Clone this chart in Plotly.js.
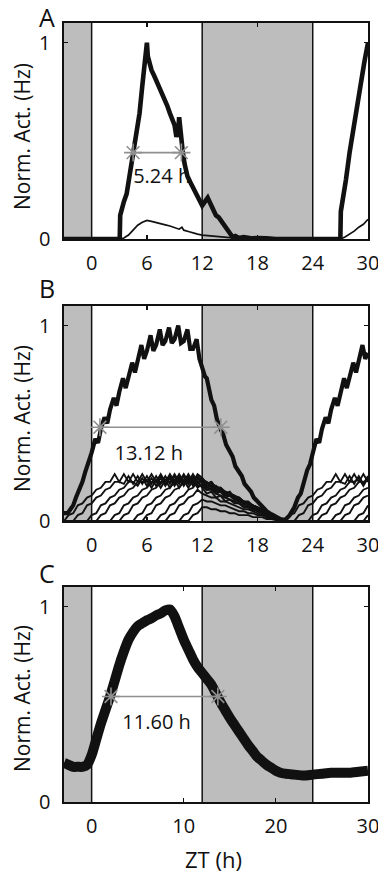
<!DOCTYPE html>
<html>
<head>
<meta charset="utf-8">
<script src="https://cdn.plot.ly/plotly-3.0.1.min.js"></script>
<style>html,body{margin:0;padding:0;background:#fff;}#chart{width:378px;height:874px;}</style>
</head>
<body>
<div id="chart"></div>
<script>
// ---------- Panel A ----------
const aTime = [-3, 3.05, 3.1, 3.3, 3.5, 3.8, 4.0, 4.3, 4.6, 4.9, 5.2, 5.5, 5.7, 5.9, 6.0, 6.1, 6.3, 6.5, 6.8, 7.0, 7.3, 7.6, 7.9, 8.2, 8.5, 8.8, 9.0, 9.2, 9.4, 9.5, 9.6, 9.7, 9.9, 10.1, 10.4, 10.7, 11.0, 11.3, 11.6, 12.0, 12.3, 12.6, 12.9, 13.2, 13.5, 13.8, 14.1, 14.4, 14.7, 15.0, 15.3, 15.6, 16.0, 16.5, 17.0, 17.5, 18, 18.5, 19, 20, 22, 24, 26, 27.0, 27.05, 27.3, 27.6, 28.0, 28.4, 28.8, 29.2, 29.6, 30];
const aTotal = [0, 0, 0.12, 0.17, 0.19, 0.23, 0.29, 0.36, 0.44, 0.55, 0.64, 0.78, 0.86, 0.95, 1.0, 0.93, 0.88, 0.86, 0.83, 0.81, 0.78, 0.75, 0.71, 0.68, 0.64, 0.61, 0.58, 0.52, 0.55, 0.62, 0.56, 0.50, 0.44, 0.38, 0.32, 0.29, 0.26, 0.23, 0.20, 0.17, 0.19, 0.21, 0.18, 0.15, 0.12, 0.11, 0.09, 0.07, 0.04, 0.02, 0.01, 0.015, 0.005, 0.01, 0.004, 0.003, 0.005, 0.002, 0.003, 0, 0, 0, 0, 0, 0.14, 0.20, 0.30, 0.44, 0.56, 0.68, 0.80, 0.90, 1.0];
const aThinTime = [-3, 3.1, 3.5, 4, 4.5, 5, 5.5, 6, 6.5, 7, 7.5, 8, 8.5, 9, 9.5, 9.8, 10, 10.5, 11, 11.5, 12, 13, 14, 15, 16, 18, 20, 24, 27, 27.5, 28, 28.5, 29, 29.5, 30];
const aThin = [0, 0, 0.005, 0.02, 0.045, 0.07, 0.085, 0.095, 0.09, 0.085, 0.08, 0.072, 0.066, 0.058, 0.05, 0.06, 0.045, 0.038, 0.03, 0.025, 0.02, 0.015, 0.01, 0.007, 0.004, 0.002, 0, 0, 0, 0.01, 0.025, 0.04, 0.06, 0.075, 0.1];
const aHalfX = [4.5, 9.74];
const aHalfY = [0.44, 0.44];
const aLabel = "5.24 h";

// ---------- Panel B ----------
const bTime = [-3, -2.6, -2.3, -2, -1.7, -1.4, -1, -0.7, -0.4, 0, 0.4, 0.7, 1.0, 1.4, 1.7, 2.0, 2.4, 2.7, 3.0, 3.4, 3.7, 4.0, 4.4, 4.7, 5.0, 5.4, 5.7, 6.0, 6.4, 6.7, 7.0, 7.4, 7.7, 8.0, 8.4, 8.7, 9.0, 9.4, 9.7, 10.0, 10.4, 10.7, 11.0, 11.4, 11.7, 12.0, 12.3, 12.5, 12.8, 13.0, 13.3, 13.6, 14.0, 14.3, 14.6, 15.0, 15.3, 15.6, 16.0, 16.3, 16.6, 17.0, 17.3, 17.6, 18, 18.3, 18.6, 19, 19.5, 20, 20.5, 21, 21.5, 22, 22.4, 22.7, 23, 23.4, 23.7, 24, 24.4, 24.7, 25, 25.4, 25.7, 26, 26.4, 26.7, 27, 27.4, 27.7, 28, 28.4, 28.7, 29, 29.4, 29.7, 30];
const bTotal = [0.04, 0.04, 0.06, 0.08, 0.12, 0.15, 0.20, 0.25, 0.29, 0.35, 0.42, 0.40, 0.47, 0.53, 0.50, 0.57, 0.63, 0.59, 0.66, 0.73, 0.68, 0.74, 0.81, 0.76, 0.82, 0.90, 0.83, 0.87, 0.95, 0.87, 0.90, 0.98, 0.90, 0.92, 0.99, 0.91, 0.93, 1.0, 0.91, 0.92, 0.98, 0.88, 0.88, 0.93, 0.83, 0.78, 0.74, 0.73, 0.65, 0.62, 0.59, 0.52, 0.47, 0.44, 0.39, 0.35, 0.33, 0.28, 0.25, 0.23, 0.19, 0.17, 0.15, 0.12, 0.10, 0.09, 0.07, 0.05, 0.035, 0.02, 0.01, 0.005, 0.03, 0.07, 0.12, 0.14, 0.20, 0.26, 0.29, 0.35, 0.42, 0.40, 0.47, 0.53, 0.50, 0.57, 0.63, 0.59, 0.66, 0.73, 0.68, 0.74, 0.81, 0.76, 0.82, 0.90, 0.83, 0.86];
// shared half-hour time grid for the single-cell traces
const bCellTime = [-3, -2.5, -2, -1.5, -1, -0.5, 0, 0.5, 1, 1.5, 2, 2.5, 3, 3.5, 4, 4.5, 5, 5.5, 6, 6.5, 7, 7.5, 8, 8.5, 9, 9.5, 10, 10.5, 11, 11.5, 12, 12.5, 13, 13.5, 14, 14.5, 15, 15.5, 16, 16.5, 17, 17.5, 18, 18.5, 19, 19.5, 20, 20.5, 21, 21.5, 22, 22.5, 23, 23.5, 24, 24.5, 25, 25.5, 26, 26.5, 27, 27.5, 28, 28.5, 29, 29.5, 30];
const bCell1 = [0, 0.03, 0.04, 0.08, 0.09, 0.12, 0.13, 0.16, 0.17, 0.20, 0.20, 0.24, 0.20, 0.24, 0.20, 0.24, 0.20, 0.24, 0.20, 0.24, 0.20, 0.24, 0.20, 0.24, 0.20, 0.24, 0.20, 0.24, 0.20, 0.24, 0.22, 0.19, 0.20, 0.17, 0.17, 0.14, 0.15, 0.12, 0.12, 0.10, 0.10, 0.08, 0.07, 0.06, 0.05, 0.03, 0.02, 0.01, 0, 0.03, 0.04, 0.08, 0.09, 0.12, 0.13, 0.16, 0.17, 0.20, 0.20, 0.24, 0.20, 0.24, 0.20, 0.24, 0.20, 0.24, 0.20];
const bCell2 = [0, 0, 0, 0.03, 0.04, 0.08, 0.09, 0.12, 0.13, 0.16, 0.17, 0.20, 0.20, 0.19, 0.23, 0.19, 0.23, 0.19, 0.23, 0.19, 0.23, 0.19, 0.23, 0.19, 0.23, 0.19, 0.23, 0.19, 0.23, 0.19, 0.21, 0.20, 0.18, 0.18, 0.16, 0.15, 0.14, 0.13, 0.11, 0.10, 0.09, 0.08, 0.06, 0.05, 0.04, 0.03, 0.02, 0.01, 0, 0, 0, 0.03, 0.04, 0.08, 0.09, 0.12, 0.13, 0.16, 0.17, 0.20, 0.20, 0.19, 0.23, 0.19, 0.23, 0.19, 0.23];
const bCell3 = [0, 0, 0, 0, 0, 0, 0.03, 0.04, 0.08, 0.09, 0.12, 0.13, 0.16, 0.17, 0.20, 0.20, 0.18, 0.22, 0.18, 0.22, 0.18, 0.22, 0.18, 0.22, 0.18, 0.22, 0.18, 0.22, 0.18, 0.22, 0.20, 0.17, 0.18, 0.15, 0.15, 0.13, 0.13, 0.11, 0.10, 0.09, 0.08, 0.07, 0.06, 0.05, 0.04, 0.03, 0.02, 0.01, 0, 0, 0, 0, 0, 0, 0.03, 0.04, 0.08, 0.09, 0.12, 0.13, 0.16, 0.17, 0.20, 0.20, 0.22, 0.18, 0.22];
const bCell4 = [0, 0, 0, 0, 0, 0, 0, 0, 0.03, 0.04, 0.08, 0.09, 0.12, 0.13, 0.16, 0.17, 0.20, 0.20, 0.21, 0.17, 0.21, 0.17, 0.21, 0.17, 0.21, 0.17, 0.21, 0.17, 0.21, 0.17, 0.19, 0.16, 0.17, 0.14, 0.15, 0.12, 0.13, 0.11, 0.11, 0.09, 0.09, 0.07, 0.06, 0.05, 0.04, 0.03, 0.02, 0.01, 0, 0, 0, 0, 0, 0, 0, 0, 0.03, 0.04, 0.08, 0.09, 0.12, 0.13, 0.16, 0.17, 0.20, 0.20, 0.21];
const bCell5 = [0, 0, 0, 0, 0, 0, 0, 0, 0, 0, 0, 0.03, 0.04, 0.08, 0.09, 0.12, 0.13, 0.16, 0.17, 0.20, 0.20, 0.23, 0.19, 0.23, 0.19, 0.23, 0.19, 0.23, 0.19, 0.23, 0.21, 0.18, 0.19, 0.16, 0.16, 0.14, 0.14, 0.12, 0.11, 0.10, 0.09, 0.08, 0.07, 0.05, 0.04, 0.03, 0.02, 0.01, 0, 0, 0, 0, 0, 0, 0, 0, 0, 0, 0, 0.03, 0.04, 0.08, 0.09, 0.12, 0.13, 0.16, 0.17];
const bCell6 = [0, 0, 0, 0, 0, 0, 0, 0, 0, 0, 0, 0, 0, 0.03, 0.04, 0.08, 0.09, 0.12, 0.13, 0.16, 0.17, 0.20, 0.20, 0.20, 0.24, 0.20, 0.24, 0.20, 0.24, 0.20, 0.22, 0.19, 0.20, 0.17, 0.17, 0.15, 0.14, 0.13, 0.12, 0.10, 0.09, 0.08, 0.07, 0.06, 0.04, 0.03, 0.02, 0.01, 0, 0, 0, 0, 0, 0, 0, 0, 0, 0, 0, 0, 0, 0.03, 0.04, 0.08, 0.09, 0.12, 0.13];
const bCell7 = [0, 0, 0, 0, 0, 0, 0, 0, 0, 0, 0, 0, 0, 0, 0, 0, 0.03, 0.04, 0.08, 0.09, 0.12, 0.13, 0.16, 0.17, 0.20, 0.20, 0.23, 0.19, 0.23, 0.19, 0.20, 0.18, 0.18, 0.16, 0.15, 0.14, 0.13, 0.11, 0.10, 0.09, 0.08, 0.07, 0.06, 0.05, 0.04, 0.03, 0.02, 0.01, 0, 0, 0, 0, 0, 0, 0, 0, 0, 0, 0, 0, 0, 0, 0, 0, 0.03, 0.04, 0.08];
const bCell8 = [0, 0, 0, 0, 0, 0, 0, 0, 0, 0, 0, 0, 0, 0, 0, 0, 0, 0, 0.03, 0.04, 0.08, 0.09, 0.12, 0.13, 0.16, 0.17, 0.20, 0.20, 0.22, 0.18, 0.18, 0.16, 0.16, 0.14, 0.13, 0.12, 0.11, 0.10, 0.09, 0.08, 0.07, 0.06, 0.05, 0.04, 0.03, 0.02, 0.01, 0.005, 0, 0, 0, 0, 0, 0, 0, 0, 0, 0, 0, 0, 0, 0, 0, 0, 0, 0, 0.03];
const bCell9 = [0, 0, 0, 0, 0, 0, 0, 0, 0, 0, 0, 0, 0, 0, 0, 0, 0, 0, 0, 0, 0, 0.03, 0.04, 0.08, 0.09, 0.12, 0.13, 0.16, 0.17, 0.20, 0.17, 0.14, 0.15, 0.12, 0.13, 0.10, 0.11, 0.09, 0.09, 0.07, 0.07, 0.06, 0.05, 0.04, 0.03, 0.02, 0.01, 0.005, 0, 0, 0, 0, 0, 0, 0, 0, 0, 0, 0, 0, 0, 0, 0, 0, 0, 0, 0];
const bCell10 = [0, 0, 0, 0, 0, 0, 0, 0, 0, 0, 0, 0, 0, 0, 0, 0, 0, 0, 0, 0, 0, 0, 0, 0.03, 0.04, 0.08, 0.09, 0.12, 0.13, 0.16, 0.14, 0.13, 0.12, 0.12, 0.10, 0.10, 0.09, 0.08, 0.07, 0.06, 0.06, 0.05, 0.04, 0.03, 0.02, 0.02, 0.01, 0.005, 0, 0, 0, 0, 0, 0, 0, 0, 0, 0, 0, 0, 0, 0, 0, 0, 0, 0, 0];
const bCell11 = [0, 0, 0, 0, 0, 0, 0, 0, 0, 0, 0, 0, 0, 0, 0, 0, 0, 0, 0, 0, 0, 0, 0, 0, 0, 0, 0.03, 0.04, 0.08, 0.09, 0.11, 0.10, 0.10, 0.09, 0.08, 0.08, 0.07, 0.06, 0.05, 0.05, 0.04, 0.04, 0.03, 0.03, 0.02, 0.01, 0.01, 0.005, 0, 0, 0, 0, 0, 0, 0, 0, 0, 0, 0, 0, 0, 0, 0, 0, 0, 0, 0];
const bCell12 = [0, 0, 0, 0, 0, 0, 0, 0, 0, 0, 0, 0, 0, 0, 0, 0, 0, 0, 0, 0, 0, 0, 0, 0, 0, 0, 0, 0, 0.03, 0.04, 0.07, 0.07, 0.06, 0.06, 0.05, 0.05, 0.04, 0.04, 0.03, 0.03, 0.03, 0.02, 0.02, 0.02, 0.01, 0.01, 0.005, 0, 0, 0, 0, 0, 0, 0, 0, 0, 0, 0, 0, 0, 0, 0, 0, 0, 0, 0, 0];
const bCells = [bCell1, bCell2, bCell3, bCell4, bCell5, bCell6, bCell7, bCell8, bCell9, bCell10, bCell11, bCell12];
const bHalfX = [0.9, 14.02];
const bHalfY = [0.48, 0.48];
const bLabel = "13.12 h";

// ---------- Panel C ----------
const cTime = [-3, -2.5, -2, -1.5, -1, -0.5, 0, 0.5, 1, 1.5, 2, 2.5, 3, 3.5, 4, 4.5, 5, 5.5, 6, 6.5, 7, 7.5, 8, 8.5, 9, 9.5, 10, 10.5, 11, 11.5, 12, 12.5, 13, 13.5, 14, 14.5, 15, 15.5, 16, 16.5, 17, 17.5, 18, 18.5, 19, 19.5, 20, 20.5, 21, 22, 23, 24, 25, 26, 27, 28, 29, 30];
const cTotal = [0.20, 0.19, 0.18, 0.18, 0.18, 0.19, 0.24, 0.32, 0.40, 0.47, 0.54, 0.62, 0.70, 0.77, 0.83, 0.87, 0.90, 0.915, 0.93, 0.94, 0.955, 0.965, 0.98, 0.985, 0.95, 0.89, 0.83, 0.78, 0.73, 0.69, 0.66, 0.63, 0.60, 0.555, 0.51, 0.47, 0.43, 0.395, 0.36, 0.325, 0.29, 0.26, 0.23, 0.21, 0.19, 0.175, 0.16, 0.15, 0.145, 0.14, 0.135, 0.14, 0.145, 0.15, 0.15, 0.15, 0.155, 0.16];
const cHalfX = [2.1, 13.7];
const cHalfY = [0.54, 0.54];
const cLabel = "11.60 h";

// ---------- shared ----------
const ticksAB = [0, 6, 12, 18, 24, 30];
const ticksC = [0, 10, 20, 30];
const yTicks = [0, 1];
const nightBlocks = [[-3, 0], [12, 24]];
const lightSwitches = [0, 12, 24];
const panelLetters = ["A", "B", "C"];
const yTitle = "Norm. Act. (Hz)";
const xTitle = "ZT (h)";

const FONT = "Open Sans, Noto Sans, DejaVu Sans, sans-serif";
const INK = "#111111";
const HALF = "#8f8f8f";

const traces = [];
function labelTrace(x, y, txt, xa, ya) {
  return {x: [x], y: [y], mode: "text", text: [txt], textposition: "middle center",
    textfont: {family: FONT, size: 20, color: INK}, xaxis: xa, yaxis: ya, hoverinfo: "skip", showlegend: false, cliponaxis: false};
}
function halfTrace(xs, ys, xa, ya) {
  return {x: xs, y: ys, mode: "lines+markers", line: {color: HALF, width: 1.6},
    marker: {symbol: "asterisk-open", size: 15, color: HALF, line: {color: HALF, width: 1.6}},
    xaxis: xa, yaxis: ya, hoverinfo: "skip", showlegend: false, cliponaxis: false};
}

// A
traces.push(labelTrace(7.6, 0.31, aLabel, "x", "y"));
traces.push({x: aThinTime, y: aThin, mode: "lines", line: {color: INK, width: 1.7}, xaxis: "x", yaxis: "y", showlegend: false});
traces.push({x: aTime, y: aTotal, mode: "lines", line: {color: INK, width: 4.6}, xaxis: "x", yaxis: "y", showlegend: false});
traces.push(halfTrace(aHalfX, aHalfY, "x", "y"));

// B
traces.push(labelTrace(6.2, 0.34, bLabel, "x2", "y2"));
bCells.forEach(function (cell) {
  traces.push({x: bCellTime, y: cell, mode: "lines", line: {color: INK, width: 1.9}, xaxis: "x2", yaxis: "y2", showlegend: false});
});
traces.push({x: bTime, y: bTotal, mode: "lines", line: {color: INK, width: 4.2}, xaxis: "x2", yaxis: "y2", showlegend: false});
traces.push(halfTrace(bHalfX, bHalfY, "x2", "y2"));

// C
traces.push(labelTrace(7.05, 0.40, cLabel, "x3", "y3"));
traces.push({x: cTime, y: cTotal, mode: "lines", line: {color: INK, width: 10, shape: "spline", smoothing: 0.6}, xaxis: "x3", yaxis: "y3", showlegend: false});
traces.push(halfTrace(cHalfX, cHalfY, "x3", "y3"));

const W = 378, H = 874;
const xDom = [64 / W, 368 / W];
const frames = [[23, 239], [306, 521], [587, 802]];
function dom(f) { return [1 - f[1] / H, 1 - f[0] / H]; }

function xAxis(ticks, anchor) {
  return {domain: xDom, range: [-3, 30], anchor: anchor, tickvals: ticks, ticktext: ticks.map(String),
    ticks: "inside", ticklen: 4, tickwidth: 1.2, tickcolor: INK, showline: true, linecolor: INK, linewidth: 1.6,
    mirror: "ticks", showgrid: false, zeroline: false, ticklabelstandoff: 5, ticklabeloverflow: "allow",
    tickfont: {family: FONT, size: 20, color: INK}, fixedrange: true};
}
function yAxis(f, anchor) {
  return {domain: dom(f), range: [0, 1.1], anchor: anchor, tickvals: yTicks, ticktext: yTicks.map(String),
    ticks: "inside", ticklen: 4, tickwidth: 1.2, tickcolor: INK, showline: true, linecolor: INK, linewidth: 1.6,
    mirror: "ticks", showgrid: false, zeroline: false, ticklabelstandoff: 8, ticklabeloverflow: "allow",
    tickfont: {family: FONT, size: 20, color: INK}, fixedrange: true};
}

const shapes = [];
[["x", "y"], ["x2", "y2"], ["x3", "y3"]].forEach(function (ax) {
  nightBlocks.forEach(function (b) {
    shapes.push({type: "rect", xref: ax[0], yref: ax[1] + " domain", x0: b[0], x1: b[1], y0: 0, y1: 1,
      fillcolor: "#bdbdbd", line: {width: 0}, layer: "below"});
  });
  lightSwitches.forEach(function (t) {
    shapes.push({type: "line", xref: ax[0], yref: ax[1] + " domain", x0: t, x1: t, y0: 0, y1: 1,
      line: {color: INK, width: 1.5}, layer: "below"});
  });
});

const annotations = [];
const letterY = [17, 288, 573];
const titleY = [137, 419, 699];
panelLetters.forEach(function (L, i) {
  annotations.push({text: L, xref: "paper", yref: "paper", x: 47 / W, y: 1 - letterY[i] / H,
    xanchor: "center", yanchor: "middle", showarrow: false, borderpad: 0,
    font: {family: FONT, size: 25, color: INK}});
  annotations.push({text: yTitle, xref: "paper", yref: "paper", x: 22 / W, y: 1 - titleY[i] / H, textangle: -90,
    xanchor: "center", yanchor: "middle", showarrow: false, borderpad: 0,
    font: {family: FONT, size: 21, color: INK}});
});
annotations.push({text: xTitle, xref: "paper", yref: "paper", x: 213 / W, y: 1 - 859 / H,
  xanchor: "center", yanchor: "middle", showarrow: false, borderpad: 0,
  font: {family: FONT, size: 22, color: INK}});

const layout = {
  width: W, height: H, margin: {l: 0, r: 0, t: 0, b: 0}, paper_bgcolor: "#ffffff", plot_bgcolor: "#ffffff",
  showlegend: false, font: {family: FONT, color: INK},
  xaxis: xAxis(ticksAB, "y"), yaxis: yAxis(frames[0], "x"),
  xaxis2: xAxis(ticksAB, "y2"), yaxis2: yAxis(frames[1], "x2"),
  xaxis3: xAxis(ticksC, "y3"), yaxis3: yAxis(frames[2], "x3"),
  shapes: shapes, annotations: annotations
};

Plotly.newPlot("chart", traces, layout, {staticPlot: true, displayModeBar: false});
</script>
</body>
</html>
